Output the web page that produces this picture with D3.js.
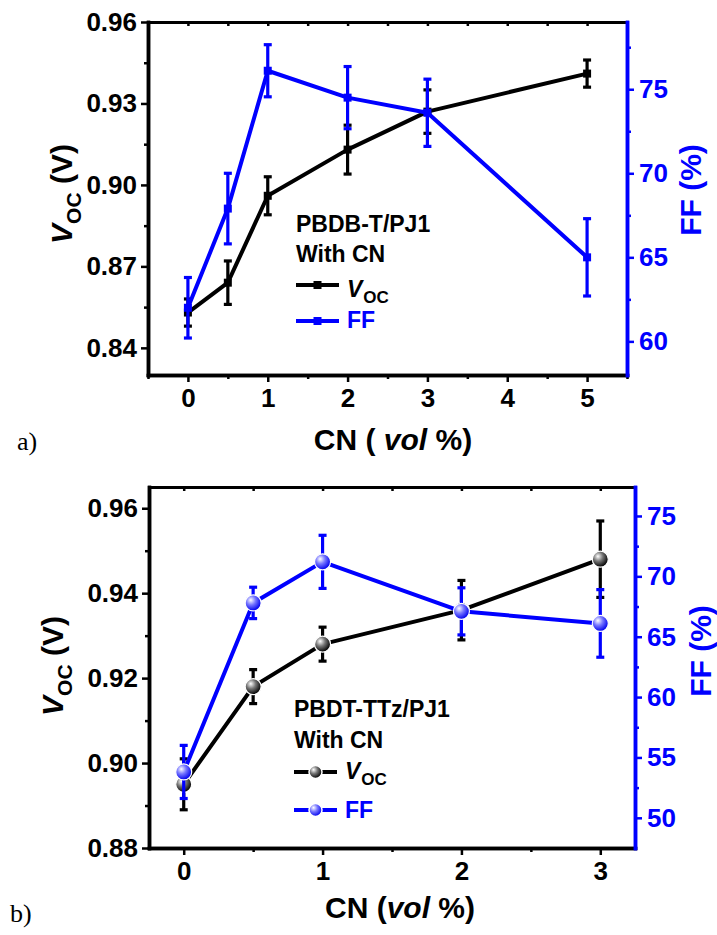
<!DOCTYPE html>
<html>
<head>
<meta charset="utf-8">
<script src="https://cdn.jsdelivr.net/npm/d3@7"></script>
<style>
html,body{margin:0;padding:0;background:#fff;}
svg{display:block;}
</style>
</head>
<body>
<svg id="chart" width="717" height="935" font-family="Liberation Sans, Arial, sans-serif" font-weight="bold"></svg>
<script>
// ---------- DATA ----------
// Panel a) PBDB-T/PJ1
const topX = [0, 0.5, 1, 2, 3, 5];
const topVoc = [0.853, 0.864, 0.896, 0.913, 0.927, 0.941];
const topVocErr = [0.005, 0.008, 0.007, 0.009, 0.008, 0.005];
const topFF = [62.0, 67.9, 76.1, 74.5, 73.6, 65.0];
const topFFErr = [1.8, 2.1, 1.55, 1.85, 2.0, 2.3];
const topXTicks = [0, 1, 2, 3, 4, 5];
const topVocTicks = [0.84, 0.87, 0.90, 0.93, 0.96];
const topFFTicks = [60, 65, 70, 75];

// Panel b) PBDT-TTz/PJ1
const botX = [0, 0.5, 1, 2, 3];
const botVoc = [0.895, 0.918, 0.928, 0.936, 0.948];
const botVocErr = [0.006, 0.004, 0.004, 0.007, 0.009];
const botFF = [53.8, 67.8, 71.2, 67.1, 66.1];
const botFFErr = [2.2, 1.3, 2.2, 1.95, 2.8];
const botXTicks = [0, 1, 2, 3];
const botVocTicks = [0.88, 0.90, 0.92, 0.94, 0.96];
const botFFTicks = [50, 55, 60, 65, 70, 75];

const legendTop = ["PBDB-T/PJ1", "With CN"];
const legendBot = ["PBDT-TTz/PJ1", "With CN"];

// ---------- DRAW ----------
const svg = d3.select("#chart");
const BLUE = "#0000FF";
const SANS = "Liberation Sans, Arial, sans-serif";
const defs = svg.append("defs");
function sphere(id, c0, c1, c2) {
  const g = defs.append("radialGradient").attr("id", id)
    .attr("cx", "38%").attr("cy", "35%").attr("r", "65%").attr("fx", "35%").attr("fy", "32%");
  g.append("stop").attr("offset", "0%").attr("stop-color", c0);
  g.append("stop").attr("offset", "45%").attr("stop-color", c1);
  g.append("stop").attr("offset", "100%").attr("stop-color", c2);
}
sphere("gBlack", "#ffffff", "#777777", "#000000");
sphere("gBlue", "#ffffff", "#7777ff", "#0000ee");

function range(a, b, s) { const r = []; for (let v = a; v <= b + 1e-9; v += s) r.push(+v.toFixed(4)); return r; }

function panel(cfg) {
  const g = svg.append("g");
  const x = d3.scaleLinear().domain(cfg.xDomain).range([cfg.l, cfg.r]);
  const y = d3.scaleLinear().domain(cfg.yDomain).range([cfg.b, cfg.t]);
  const y2 = d3.scaleLinear().domain(cfg.y2Domain).range([cfg.b, cfg.t]);

  function styleAxis(sel, color, width) {
    sel.attr("font-family", SANS).attr("font-weight", "bold").attr("font-size", 26);
    sel.select(".domain").attr("stroke", color).attr("stroke-width", width).attr("stroke-linecap", "square");
    sel.selectAll(".tick line").attr("stroke", color).attr("stroke-width", 2.5);
    sel.selectAll(".tick text").attr("fill", color);
  }

  // top axis (small inward ticks)
  const topAx = g.append("g").attr("transform", `translate(0,${cfg.t})`)
    .call(d3.axisTop(x).tickValues(cfg.topTicks).tickSize(-4).tickSizeOuter(0).tickFormat(""));
  styleAxis(topAx, "#000", 3);

  // bottom minor
  const botMin = g.append("g").attr("transform", `translate(0,${cfg.b})`)
    .call(d3.axisBottom(x).tickValues(cfg.xMinor).tickSize(4).tickSizeOuter(0).tickFormat(""));
  styleAxis(botMin, "#000", 3.5);
  const botAx = g.append("g").attr("transform", `translate(0,${cfg.b})`)
    .call(d3.axisBottom(x).tickValues(cfg.xTicks).tickSize(7).tickSizeOuter(0).tickPadding(7).tickFormat(d3.format("d")));
  styleAxis(botAx, "#000", 3.5);

  // left
  const leftMin = g.append("g").attr("transform", `translate(${cfg.l},0)`)
    .call(d3.axisLeft(y).tickValues(cfg.yMinor).tickSize(4).tickSizeOuter(0).tickFormat(""));
  styleAxis(leftMin, "#000", 3.5);
  const leftAx = g.append("g").attr("transform", `translate(${cfg.l},0)`)
    .call(d3.axisLeft(y).tickValues(cfg.yTicks).tickSize(7).tickSizeOuter(0).tickPadding(4).tickFormat(d3.format(".2f")));
  styleAxis(leftAx, "#000", 3.5);

  // right
  const rightMin = g.append("g").attr("transform", `translate(${cfg.r},0)`)
    .call(d3.axisRight(y2).tickValues(cfg.y2Minor).tickSize(4).tickSizeOuter(0).tickFormat(""));
  styleAxis(rightMin, BLUE, 3.5);
  const rightAx = g.append("g").attr("transform", `translate(${cfg.r},0)`)
    .call(d3.axisRight(y2).tickValues(cfg.y2Ticks).tickSize(7).tickSizeOuter(0).tickPadding(5).tickFormat(d3.format("d")));
  styleAxis(rightAx, BLUE, 3.5);

  // series
  function series(xs, vs, es, scale, color, grad) {
    const pts = xs.map((d, i) => ({ x: d, v: vs[i], e: es[i] }));
    g.append("path").datum(pts)
      .attr("d", d3.line().x(d => x(d.x)).y(d => scale(d.v)))
      .attr("fill", "none").attr("stroke", color).attr("stroke-width", 4).attr("stroke-linejoin", "round");
    const eb = g.append("g").attr("stroke", color).attr("stroke-width", 3.2);
    pts.forEach(d => {
      const cx = x(d.x), y0 = scale(d.v + d.e), y1 = scale(d.v - d.e);
      eb.append("line").attr("x1", cx).attr("x2", cx).attr("y1", y0).attr("y2", y1);
      eb.append("line").attr("x1", cx - 4).attr("x2", cx + 4).attr("y1", y0).attr("y2", y0);
      eb.append("line").attr("x1", cx - 4).attr("x2", cx + 4).attr("y1", y1).attr("y2", y1);
    });
    if (cfg.shape === "square") {
      g.selectAll(null).data(pts).enter().append("rect")
        .attr("x", d => x(d.x) - 4).attr("y", d => scale(d.v) - 4)
        .attr("width", 8).attr("height", 8).attr("fill", color);
    } else {
      g.selectAll(null).data(pts).enter().append("circle")
        .attr("cx", d => x(d.x)).attr("cy", d => scale(d.v)).attr("r", 8)
        .attr("fill", `url(#${grad})`).attr("stroke", "#fff").attr("stroke-width", 1.2);
    }
  }
  series(cfg.xs, cfg.voc, cfg.vocErr, y, "#000", "gBlack");
  series(cfg.xs, cfg.ff, cfg.ffErr, y2, BLUE, "gBlue");

  // legend
  const lg = g.append("g").attr("font-size", 23);
  lg.append("text").attr("x", cfg.legX).attr("y", cfg.legY[0]).text(cfg.legend[0]);
  lg.append("text").attr("x", cfg.legX).attr("y", cfg.legY[1]).text(cfg.legend[1]);
  [[cfg.legY[2], "#000", "gBlack"], [cfg.legY[4], BLUE, "gBlue"]].forEach(([ly, c, gr]) => {
    lg.append("line").attr("x1", cfg.legX).attr("x2", cfg.legX + 43).attr("y1", ly).attr("y2", ly)
      .attr("stroke", c).attr("stroke-width", 4);
    if (cfg.shape === "square") {
      lg.append("rect").attr("x", cfg.legX + 21.5 - 4).attr("y", ly - 4).attr("width", 8).attr("height", 8).attr("fill", c);
    } else {
      lg.append("circle").attr("cx", cfg.legX + 21.5).attr("cy", ly).attr("r", 6.5)
        .attr("fill", `url(#${gr})`).attr("stroke", "#fff").attr("stroke-width", 1.5);
    }
  });
  const vt = lg.append("text").attr("x", cfg.legX + 51).attr("y", cfg.legY[3]);
  vt.append("tspan").attr("font-style", "italic").text("V");
  vt.append("tspan").attr("font-size", 17).attr("dy", 6).attr("dx", 1).text("OC");
  lg.append("text").attr("x", cfg.legX + 51).attr("y", cfg.legY[5]).attr("fill", BLUE).text("FF");

  // axis titles
  const yt = g.append("text").attr("transform", `translate(${cfg.yTitle[0]},${cfg.yTitle[1]}) rotate(-90)`)
    .attr("text-anchor", "middle").attr("font-size", 30);
  yt.append("tspan").attr("font-style", "italic").text("V");
  yt.append("tspan").attr("font-size", 21).attr("dy", 9).text("OC");
  yt.append("tspan").attr("dy", -9).text(" (V)");

  g.append("text").attr("transform", `translate(${cfg.y2Title[0]},${cfg.y2Title[1]}) rotate(-90)`)
    .attr("text-anchor", "middle").attr("font-size", 30).attr("fill", BLUE).text("FF (%)");

  const xt = g.append("text").attr("x", cfg.xTitle[0]).attr("y", cfg.xTitle[1])
    .attr("text-anchor", "middle").attr("font-size", 30);
  xt.append("tspan").text(cfg.xTitleParts[0]);
  xt.append("tspan").attr("font-style", "italic").text("vol");
  xt.append("tspan").text(" %)");

  g.append("text").attr("x", cfg.tag[0]).attr("y", cfg.tag[1])
    .attr("font-family", "Liberation Serif, Times New Roman, serif").attr("font-weight", "normal")
    .attr("font-size", 26).text(cfg.tag[2]);
}

panel({
  l: 148, r: 627, t: 22, b: 375,
  xDomain: [-0.5, 5.5], yDomain: [0.83, 0.96], y2Domain: [58, 79],
  xTicks: topXTicks, xMinor: range(-0.5, 5.5, 1), topTicks: range(0, 5.5, 0.5),
  yTicks: topVocTicks, yMinor: range(0.855, 0.945, 0.03),
  y2Ticks: topFFTicks, y2Minor: range(62.5, 77.5, 5),
  xs: topX, voc: topVoc, vocErr: topVocErr, ff: topFF, ffErr: topFFErr,
  shape: "square",
  legend: legendTop, legX: 296, legY: [232, 262, 285, 297, 321, 328],
  yTitle: [72, 194], y2Title: [701, 190], xTitle: [393, 450], xTitleParts: ["CN (  "],
  tag: [17, 450, "a)"]
});

panel({
  l: 149, r: 635, t: 487, b: 848,
  xDomain: [-0.25, 3.25], yDomain: [0.88, 0.965], y2Domain: [47.5, 77.4],
  xTicks: botXTicks, xMinor: range(0.5, 2.5, 1), topTicks: range(0, 3, 0.5),
  yTicks: botVocTicks, yMinor: range(0.89, 0.95, 0.02),
  y2Ticks: botFFTicks, y2Minor: range(52.5, 72.5, 5),
  xs: botX, voc: botVoc, vocErr: botVocErr, ff: botFF, ffErr: botFFErr,
  shape: "circle",
  legend: legendBot, legX: 294, legY: [717, 748, 772, 779, 810, 818],
  yTitle: [63, 666], y2Title: [711, 651], xTitle: [400, 918], xTitleParts: ["CN ("],
  tag: [10, 922, "b)"]
});
</script>
</body>
</html>
